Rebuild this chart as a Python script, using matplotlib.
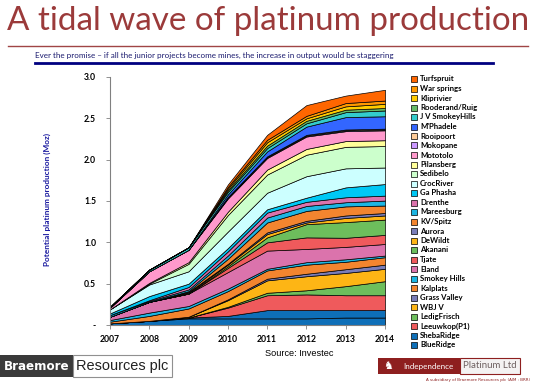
import matplotlib
matplotlib.use('Agg')
import matplotlib.pyplot as plt
from matplotlib.patches import Rectangle
from matplotlib.lines import Line2D

# 数据 (Moz), 从下往上叠
years = [2007, 2008, 2009, 2010, 2011, 2012, 2013, 2014]

names = ['BlueRidge', 'ShebaRidge', 'Leeuwkop(P1)', 'LedigFrisch', 'WBJ V',
         'Grass Valley', 'Kalplats', 'Smokey Hills', 'Eland', 'Tjate',
         'Akanani', 'DeWildt', 'Aurora', 'KV/Spitz', 'Mareesburg', 'Drenthe',
         'Ga Phasha', 'CrocRiver', 'Sedibelo', 'Pilansberg', 'Mototolo',
         'Mokopane', 'Rooipoort', "M'Phadele", 'J V SmokeyHills',
         'Rooderand/Ruig', 'Kliprivier', 'War springs', 'Turfspruit']

blueridge = [0.02, 0.05, 0.08, 0.08, 0.08, 0.08, 0.09, 0.09]
shebaridge = [0.00, 0.00, 0.01, 0.03, 0.10, 0.10, 0.09, 0.09]
leeuwkop = [0.00, 0.00, 0.00, 0.10, 0.18, 0.19, 0.18, 0.18]
ledigfrisch = [0.00, 0.00, 0.00, 0.01, 0.03, 0.05, 0.11, 0.17]
wbjv = [0.00, 0.00, 0.01, 0.08, 0.15, 0.17, 0.16, 0.15]
grassvalley = [0.00, 0.00, 0.00, 0.01, 0.02, 0.03, 0.045, 0.05]
kalplats = [0.02, 0.06, 0.10, 0.10, 0.10, 0.11, 0.09, 0.09]
smokeyhills = [0.02, 0.04, 0.03, 0.03, 0.02, 0.03, 0.03, 0.02]
eland = [0.04, 0.13, 0.15, 0.20, 0.22, 0.16, 0.15, 0.14]
tjate = [0.00, 0.00, 0.00, 0.05, 0.10, 0.14, 0.11, 0.11]
akanani = [0.00, 0.00, 0.00, 0.02, 0.06, 0.16, 0.19, 0.185]
dewildt = [0.00, 0.00, 0.01, 0.02, 0.04, 0.02, 0.05, 0.05]
aurora = [0.00, 0.00, 0.01, 0.01, 0.02, 0.02, 0.03, 0.03]
kvspitz = [0.00, 0.00, 0.01, 0.06, 0.12, 0.12, 0.11, 0.09]
mareesburg = [0.02, 0.01, 0.02, 0.04, 0.06, 0.06, 0.05, 0.06]
drenthe = [0.00, 0.01, 0.03, 0.05, 0.06, 0.05, 0.06, 0.06]
gaphasha = [0.02, 0.05, 0.04, 0.04, 0.04, 0.05, 0.12, 0.14]
crocriver = [0.05, 0.14, 0.15, 0.20, 0.20, 0.26, 0.23, 0.20]
sedibelo = [0.00, 0.01, 0.09, 0.20, 0.22, 0.26, 0.26, 0.26]
pilansberg = [0.00, 0.01, 0.02, 0.04, 0.06, 0.07, 0.07, 0.07]
mototolo = [0.02, 0.14, 0.15, 0.16, 0.14, 0.15, 0.12, 0.12]
mokopane = [0.00, 0.00, 0.00, 0.01, 0.01, 0.01, 0.01, 0.01]
rooipoort = [0.00, 0.00, 0.00, 0.01, 0.01, 0.01, 0.01, 0.01]
mphadele = [0.00, 0.00, 0.00, 0.03, 0.06, 0.10, 0.15, 0.15]
jvsmokey = [0.01, 0.02, 0.03, 0.03, 0.04, 0.04, 0.06, 0.07]
rooderand = [0.00, 0.00, 0.00, 0.02, 0.03, 0.03, 0.03, 0.03]
kliprivier = [0.00, 0.00, 0.00, 0.02, 0.04, 0.03, 0.04, 0.05]
warsprings = [0.00, 0.00, 0.00, 0.02, 0.03, 0.03, 0.04, 0.04]
turfspruit = [0.00, 0.00, 0.00, 0.03, 0.06, 0.13, 0.09, 0.13]

series = [blueridge, shebaridge, leeuwkop, ledigfrisch, wbjv, grassvalley,
          kalplats, smokeyhills, eland, tjate, akanani, dewildt, aurora,
          kvspitz, mareesburg, drenthe, gaphasha, crocriver, sedibelo,
          pilansberg, mototolo, mokopane, rooipoort, mphadele, jvsmokey,
          rooderand, kliprivier, warsprings, turfspruit]

colors = ['#0E6FB8', '#0E6FB8', '#EF5A5C', '#6DBE5C', '#FDB515',
          '#7A7DB8', '#F3852F', '#1CB5E2', '#DB73AC', '#EF5A5C',
          '#6DBE5C', '#FDB515', '#7A7DB8', '#F3852F', '#1CB5E2', '#DB73AC',
          '#00C8F5', '#CCFFFF', '#CCFFCC', '#FFFF99', '#FF99CC',
          '#CC99FF', '#FFCC99', '#3366FF', '#33CCCC',
          '#66BB66', '#FFCC00', '#FF9900', '#FF6600']

yticks = [0, 0.5, 1.0, 1.5, 2.0, 2.5, 3.0]
ytick_labels = ['-', '0.5', '1.0', '1.5', '2.0', '2.5', '3.0']

W, H = 536, 385
def fx(x): return x / W
def fy(y): return 1 - y / H

fig = plt.figure(figsize=(W / 100, H / 100), dpi=100)
fig.patch.set_facecolor('white')
rend = fig.canvas.get_renderer()

# 把文字缩放到给定像素宽度(竖排的按高度)
def fit(t, size_px, vertical=False):
    bb = t.get_window_extent(renderer=rend)
    cur = bb.height if vertical else bb.width
    t.set_fontsize(t.get_fontsize() * size_px / cur)
    return t

#========标题
t = fig.text(fx(7), fy(21), 'A tidal wave of platinum production', fontsize=24,
             color='#9B3A3A', family='Lato', va='center', ha='left')
fit(t, 522)
fig.add_artist(Line2D([fx(8), fx(528)], [fy(46), fy(46)], color='#A04545', lw=1.0))
t = fig.text(fx(35), fy(55.5), 'Ever the promise \u2013 if all the junior projects become mines, the increase in output would be staggering',
             fontsize=5, color='#1A1A6E', family='Lato', va='center', ha='left')
fit(t, 358)
fig.add_artist(Line2D([fx(35), fx(493)], [fy(62.5), fy(62.5)], color='#000080', lw=2.0))

#========主图
ax = fig.add_axes([fx(110), fy(325), fx(385) - fx(110), fy(77) - fy(325)])
ax.stackplot(years, *series, colors=colors, edgecolor='black', linewidth=0.5)
ax.set_xlim(2007, 2014)
ax.set_ylim(0, 3.0)
ax.set_xticks(years)
ax.set_xticklabels([str(y) for y in years], fontsize=6.2, fontweight='bold', family='Lato')
ax.set_yticks(yticks)
ax.set_yticklabels(ytick_labels, fontsize=6.2, fontweight='bold', family='Lato')
ax.tick_params(axis='x', direction='out', length=3, width=0.6, color='#808080', pad=4)
ax.tick_params(axis='y', direction='out', length=3, width=0.6, color='#808080', pad=7)
for s in ['top', 'right']:
    ax.spines[s].set_visible(False)
for s in ['left', 'bottom']:
    ax.spines[s].set_color('#808080')
    ax.spines[s].set_linewidth(0.8)

t = fig.text(fx(47), fy(200), 'Potential platinum production (Moz)', rotation=90,
             fontsize=5.5, fontweight='bold', color='#1A1AA0', family='Lato',
             va='center', ha='center')
fit(t, 134, vertical=True)

# 图例 (反序, 和堆叠一致), 手动排
step = (345 - 79) / (len(names) - 1)
for i, (nm, c) in enumerate(zip(names[::-1], colors[::-1])):
    yc = 79 + i * step
    fig.add_artist(Rectangle((fx(411), fy(yc + 3)), fx(6), fy(yc - 3) - fy(yc + 3),
                             facecolor=c, edgecolor='black', lw=0.5))
    fig.text(fx(420), fy(yc), nm, fontsize=5.6, fontweight='bold', family='Lato',
             va='center', ha='left', color='black')

t = fig.text(fx(299), fy(354), 'Source: Investec', fontsize=7.5, family='Liberation Sans',
             va='center', ha='center', color='black')
fit(t, 68)

#========底部的logo
fig.add_artist(Rectangle((fx(0), fy(377)), fx(73), fy(355) - fy(377),
                         facecolor='#3A3A3A', edgecolor='none'))
t = fig.text(fx(36.5), fy(366), 'Braemore', fontsize=10, fontweight='bold', color='white',
             family='DejaVu Sans', va='center', ha='center')
fit(t, 66)
fig.add_artist(Rectangle((fx(73), fy(377)), fx(172) - fx(73), fy(355) - fy(377),
                         facecolor='white', edgecolor='#909090', lw=0.8))
t = fig.text(fx(122), fy(366), 'Resources plc', fontsize=10, color='#222222',
             family='Liberation Sans', va='center', ha='center')
fit(t, 92)

fig.add_artist(Rectangle((fx(378), fy(374)), fx(460) - fx(378), fy(358) - fy(374),
                         facecolor='#8E1F1F', edgecolor='none'))
fig.text(fx(388), fy(366), '\u265e', fontsize=8, color='white', va='center', ha='center',
         family='DejaVu Sans')
t = fig.text(fx(428), fy(366), 'Independence', fontsize=6, color='white',
             family='Lato', va='center', ha='center')
fit(t, 50)
fig.add_artist(Rectangle((fx(460), fy(374)), fx(520) - fx(460), fy(358) - fy(374),
                         facecolor='#F4F2F2', edgecolor='#8E1F1F', lw=0.8))
t = fig.text(fx(490), fy(366), 'Platinum Ltd', fontsize=6, color='#6E6060',
             family='Lato', va='center', ha='center')
fit(t, 54)
t = fig.text(fx(530), fy(380.5), 'A subsidiary of Braemore Resources plc (AIM : BRR)', fontsize=2.6,
             color='#8E1F1F', family='DejaVu Sans', va='center', ha='right')
fit(t, 105)

fig.savefig('out.png', dpi=100)
